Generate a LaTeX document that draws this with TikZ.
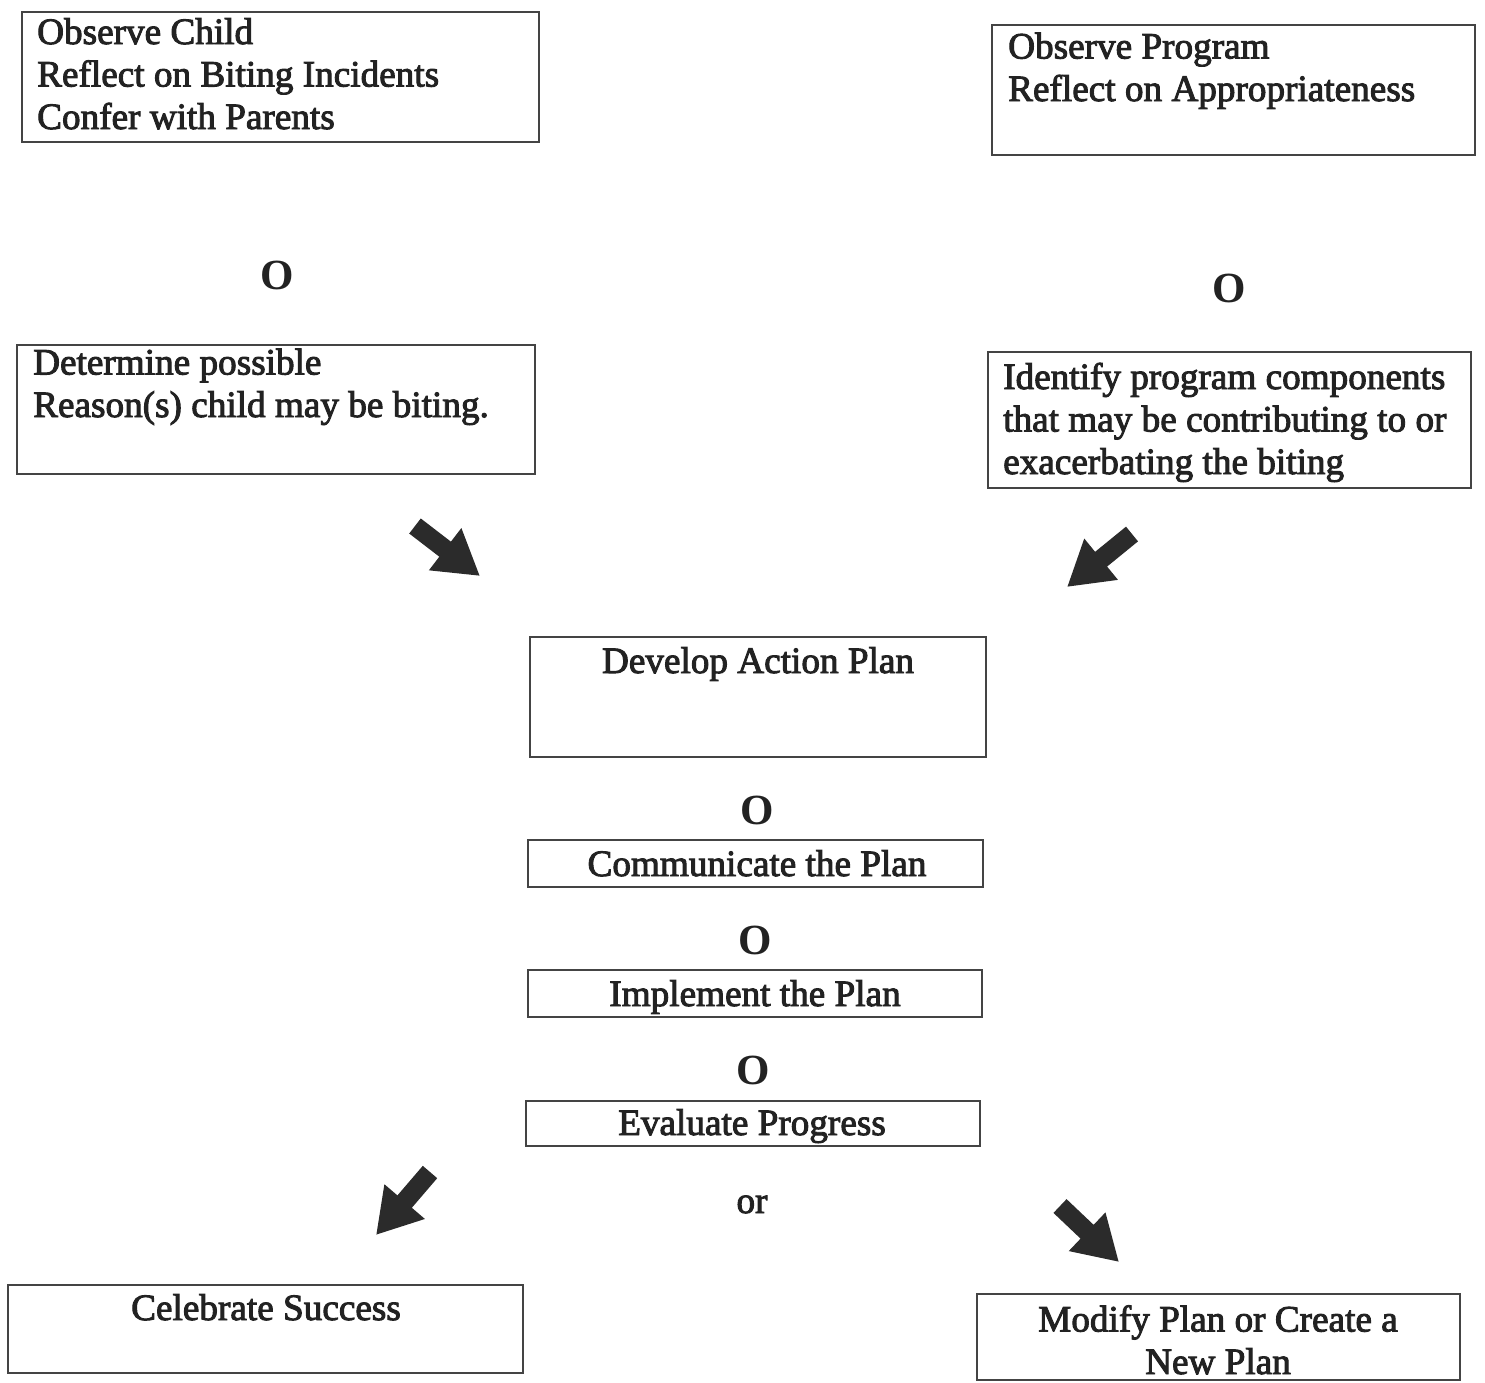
\documentclass[tikz,border=0pt]{standalone}
\usepackage{fontspec}
\setmainfont{Liberation Serif}[FakeBold=2.5]
\newfontfamily\symfont{Liberation Serif Bold}
\usetikzlibrary{arrows.meta}
\definecolor{ink}{HTML}{222222}
\definecolor{frame}{HTML}{444444}
\definecolor{arr}{HTML}{2B2B2B}
\tikzset{
  box/.style={draw=frame, line width=1.6pt},
  txt/.style={text=ink, inner sep=0pt, font=\fontsize{37.2}{42.5}\selectfont},
  sym/.style={text=ink, inner sep=0pt, font=\symfont\fontsize{43}{48}\selectfont},
  blockarrow/.style={draw=arr, line width=19pt, line cap=butt,
    -{Triangle[length=44pt,width=50pt]}},
}
\begin{document}
\begin{tikzpicture}[x=1pt,y=-1pt]
\useasboundingbox[fill=white] (0,0) rectangle (1485,1382);

% boxes
\draw[box] (22,12) rectangle (539,142);
\draw[box] (992,25) rectangle (1475,155);
\draw[box] (17,345) rectangle (535,474);
\draw[box] (988,352) rectangle (1471,488);
\draw[box] (530,637) rectangle (986,757);
\draw[box] (528,840) rectangle (983,887);
\draw[box] (528,970) rectangle (982,1017);
\draw[box] (526,1101) rectangle (980,1146);
\draw[box] (8,1285) rectangle (523,1373);
\draw[box] (977,1294) rectangle (1460,1380);

% texts (base anchor = baseline of last line)
\node[txt, anchor=base west, align=left] (t1) at (37,129)
  {Observe Child\\Reflect on Biting Incidents\\Confer with Parents};
\node[txt, anchor=base west, align=left] (t2) at (1008,101)
  {Observe Program\\Reflect on Appropriateness};
\node[sym] (o1) at (277,275) {O};
\node[sym] (o2) at (1229,288) {O};
\node[txt, anchor=base west, align=left] (t3) at (33,417)
  {Determine possible\\Reason(s) child may be biting.};
\node[txt, anchor=base west, align=left] (t4) at (1003,474)
  {Identify program components\\that may be contributing to or\\exacerbating the biting};
\node[txt, anchor=base] (t5) at (758,673) {Develop Action Plan};
\node[sym] (o3) at (757,810) {O};
\node[txt, anchor=base] (t6) at (757,876) {Communicate the Plan};
\node[sym] (o4) at (755,940) {O};
\node[txt, anchor=base] (t7) at (755,1006) {Implement the Plan};
\node[sym] (o5) at (753,1070) {O};
\node[txt, anchor=base] (t8) at (752,1135) {Evaluate Progress};
\node[txt, anchor=base] (t9) at (752,1213) {or};
\node[txt, anchor=base] (t10) at (266,1320) {Celebrate Success};
\node[txt, anchor=base, align=center] (t11) at (1218,1374) {Modify Plan or Create a\\New Plan};

% block arrows
\coordinate (a1s) at (415,526);
\coordinate (a1e) at (480,576);
\coordinate (a2s) at (1132,534);
\coordinate (a2e) at (1067,587);
\coordinate (a3s) at (430,1172);
\coordinate (a3e) at (376,1235);
\coordinate (a4s) at (1060,1206);
\coordinate (a4e) at (1119,1262);
\draw[blockarrow] (a1s) -- (a1e);
\draw[blockarrow] (a2s) -- (a2e);
\draw[blockarrow] (a3s) -- (a3e);
\draw[blockarrow] (a4s) -- (a4e);
\end{tikzpicture}
\end{document}
